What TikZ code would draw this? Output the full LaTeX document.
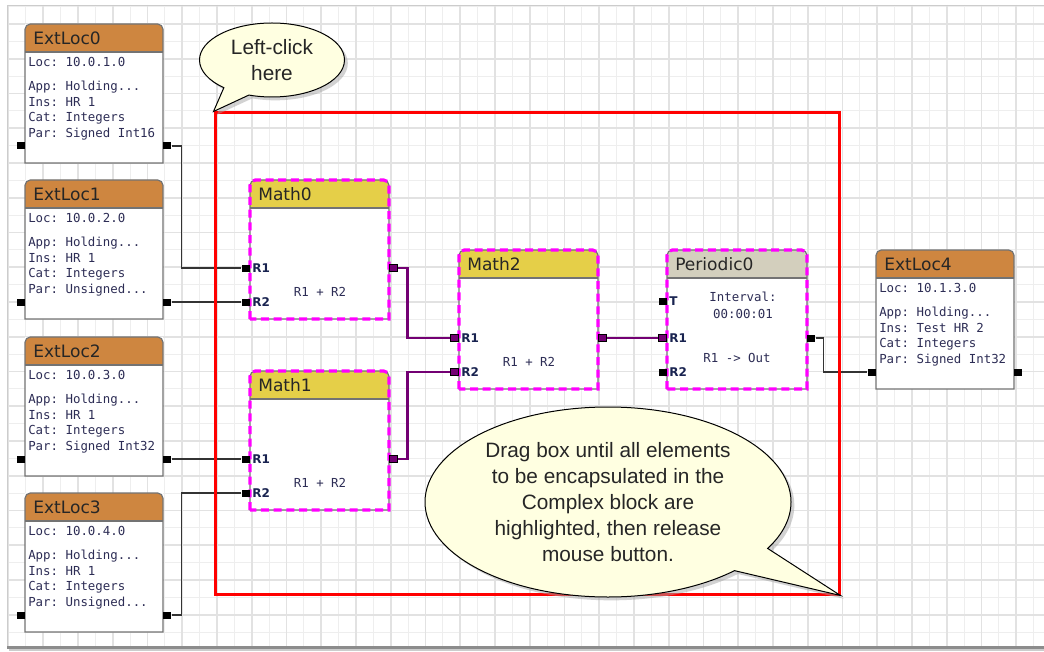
\documentclass[tikz,border=0pt]{standalone}
\usepackage{fontspec}
\setmainfont{DejaVu Sans}
\setmonofont{DejaVu Sans Mono}
\newfontfamily\tipfont{Liberation Sans}
\usepackage{tikz}
\usetikzlibrary{shapes.callouts, shadows}

\definecolor{extorange}{RGB}{206,134,64}
\definecolor{mathyellow}{RGB}{229,207,72}
\definecolor{pergray}{RGB}{211,207,189}
\definecolor{gridmaj}{RGB}{226,226,226}
\definecolor{gridmin}{RGB}{238,238,238}
\definecolor{tipfill}{RGB}{255,255,225}
\definecolor{textnavy}{RGB}{45,45,85}
\definecolor{labelnavy}{RGB}{25,35,80}
\definecolor{hotpurple}{RGB}{115,0,115}
\definecolor{selmagenta}{RGB}{255,0,255}
\definecolor{marqueered}{RGB}{255,0,0}

% one block: name, title, x, y, width, height, header colour, edge style
\newcommand{\drawblock}[8]{%
  \fill[white] (#3,#4) rectangle ++(#5,#6);
  \fill[#7] (#3,#4+28) [rounded corners=4pt] -- (#3,#4) -- (#3+#5,#4) [sharp corners] -- (#3+#5,#4+28) -- cycle;
  \draw[block edge] (#3,#4+28) -- ++(#5,0);
  \draw[block edge] (#3,#4+#6) [rounded corners=4pt] -- (#3,#4) -- (#3+#5,#4) [sharp corners] -- (#3+#5,#4+#6) -- cycle;
  \draw[#8] (#3,#4+#6) [rounded corners=4pt] -- (#3,#4) -- (#3+#5,#4) [sharp corners] -- (#3+#5,#4+#6) -- cycle;
  \node[title text] (#1) at (#3+8,#4+14) {#2};
}

% external location: name, x, y, number, loc, ins, par
\newcommand{\extloc}[7]{%
  \drawblock{#1}{ExtLoc#4}{#2}{#3}{138}{139}{extorange}{draw=none}
  \node[info text] (#1-loc) at (#2+3,#3+38) {Loc: #5};
  \node[info text] (#1-app) at (#2+3,#3+63) {App: Holding...};
  \node[info text] (#1-ins) at (#2+3,#3+78) {Ins: #6};
  \node[info text] (#1-cat) at (#2+3,#3+94) {Cat: Integers};
  \node[info text] (#1-par) at (#2+3,#3+110) {Par: #7};
  \node[port, anchor=east] (#1-in) at (#2,#3+122) {};
  \node[port, anchor=west] (#1-out) at (#2+138,#3+122) {};
}

% math block: name, number, x, y, input port style
\newcommand{\mathblock}[5]{%
  \drawblock{#1}{Math#2}{#3}{#4}{139}{139}{mathyellow}{selection}
  \node[#5, anchor=east] (#1-r1) at (#3,#4+88) {};
  \node[#5, anchor=east] (#1-r2) at (#3,#4+122) {};
  \node[hot port, anchor=west] (#1-out) at (#3+139,#4+88) {};
  \node[port label] (#1-r1t) at (#3+2,#4+88) {R1};
  \node[port label] (#1-r2t) at (#3+2,#4+122) {R2};
  \node[info text, anchor=center] (#1-op) at (#3+70,#4+112) {R1 + R2};
}

\begin{document}
\begin{tikzpicture}[x=0.75pt, y=-0.75pt]
  \tikzset{block edge/.style={draw=black!55, line width=0.9pt},
    selection/.style={draw=selmagenta, line width=2.4pt, dash pattern=on 6pt off 3.5pt},
    title text/.style={anchor=west, inner sep=0pt, text=black!85,
      font=\fontsize{12.8}{14}\selectfont},
    info text/.style={anchor=west, inner sep=0pt, text=textnavy,
      font=\ttfamily\fontsize{9.3}{11}\selectfont},
    port label/.style={anchor=west, inner sep=0pt, text=labelnavy,
      font=\bfseries\fontsize{9}{10}\selectfont},
    port/.style={rectangle, fill=black, inner sep=0pt,
      minimum width=6pt, minimum height=5.25pt},
    hot port/.style={port, draw=black, line width=0.6pt, fill=hotpurple},
    wire/.style={draw=black!80, line width=1pt},
    hot wire/.style={draw=hotpurple, line width=2.2pt},
    grid major/.style={draw=gridmaj, line width=1.2pt},
    grid minor/.style={draw=gridmin, line width=0.8pt},
    marquee/.style={draw=marqueered, line width=2.25pt, inner sep=0pt},
    tip bubble/.style={ellipse callout, draw=black, line width=0.75pt,
      fill=tipfill, align=center, inner sep=0pt, text=black!85,
      font=\tipfont\fontsize{15.6}{19.5}\selectfont,
      drop shadow={shadow xshift=2.5pt, shadow yshift=-2.5pt, fill=black!35}}
  }
  \useasboundingbox (0,0) rectangle (1044,652);
  \fill[white] (0,0) rectangle (1044,652);

  % canvas and grid
  \foreach \k in {0,...,29} \draw[grid minor] ({25.9+34.75*\k},5) -- ({25.9+34.75*\k},646);
  \foreach \k in {0,...,18} \draw[grid minor] (7,{6.6+34.75*\k}) -- (1044,{6.6+34.75*\k});
  \foreach \k in {0,...,29} \draw[grid major] ({8.5+34.75*\k},5) -- ({8.5+34.75*\k},646);
  \foreach \k in {0,...,17} \draw[grid major] (7,{24+34.75*\k}) -- (1044,{24+34.75*\k});
  \draw[black!20] (1044,5) -- (7,5) -- (7,646);
  \fill[black!45] (7,646) rectangle (1044,649);
  \fill[black!20] (9,649) rectangle (1044,651);

  % external locations
  \extloc{ext0}{25}{24}{0}{10.0.1.0}{HR 1}{Signed Int16}
  \extloc{ext1}{25}{180}{1}{10.0.2.0}{HR 1}{Unsigned...}
  \extloc{ext2}{25}{337}{2}{10.0.3.0}{HR 1}{Signed Int32}
  \extloc{ext3}{25}{493}{3}{10.0.4.0}{HR 1}{Unsigned...}
  \extloc{ext4}{876}{250}{4}{10.1.3.0}{Test HR 2}{Signed Int32}

  % math blocks
  \mathblock{math0}{0}{250}{180}{port}
  \mathblock{math1}{1}{250}{371}{port}
  \mathblock{math2}{2}{459}{250}{hot port}

  % periodic block
  \drawblock{per0}{Periodic0}{667}{250}{140}{139}{pergray}{selection}
  \node[port, anchor=east] (per0-t) at (667,301) {};
  \node[hot port, anchor=east] (per0-r1) at (667,338) {};
  \node[port, anchor=east] (per0-r2) at (667,372) {};
  \node[port, anchor=west] (per0-out) at (807,338) {};
  \node[port label] (per0-tt) at (669,301) {T};
  \node[port label] (per0-r1t) at (669,338) {R1};
  \node[port label] (per0-r2t) at (669,372) {R2};
  \node[info text, anchor=center] (per0-int) at (743,297) {Interval:};
  \node[info text, anchor=center] (per0-time) at (743,314) {00:00:01};
  \node[info text, anchor=center] (per0-op) at (737,358) {R1 -> Out};

  % connections
  \draw[wire] (ext0-out.east) -- ++(10,0) |- (math0-r1.west);
  \draw[wire] (ext1-out.east) -- (math0-r2.west);
  \draw[wire] (ext2-out.east) -- (math1-r1.west);
  \draw[wire] (ext3-out.east) -- ++(10,0) |- (math1-r2.west);
  \draw[hot wire] (math0-out.east) -- ++(10,0) |- (math2-r1.west);
  \draw[hot wire] (math1-out.east) -- ++(10,0) |- (math2-r2.west);
  \draw[hot wire] (math2-out.east) -- (per0-r1.west);
  \draw[wire] (per0-out.east) -- ++(8,0) |- (ext4-in.west);

  % drag box and hints
  \node[marquee, minimum width={624*0.75pt}, minimum height={481*0.75pt}] (sel) at (527,353.5) {};
  \node[tip bubble, minimum width={145*0.75pt}, minimum height={74*0.75pt},
    callout absolute pointer=(sel.north west), callout pointer arc=23] (click) at (272,60)
    {Left-click\\here};
  \node[tip bubble, minimum width={366*0.75pt}, minimum height={190*0.75pt},
    callout absolute pointer=(sel.south east), callout pointer arc=17] (drag) at (608,502)
    {Drag box until all elements\\to be encapsulated in the\\Complex block are\\highlighted, then release\\mouse button.};
\end{tikzpicture}
\end{document}
